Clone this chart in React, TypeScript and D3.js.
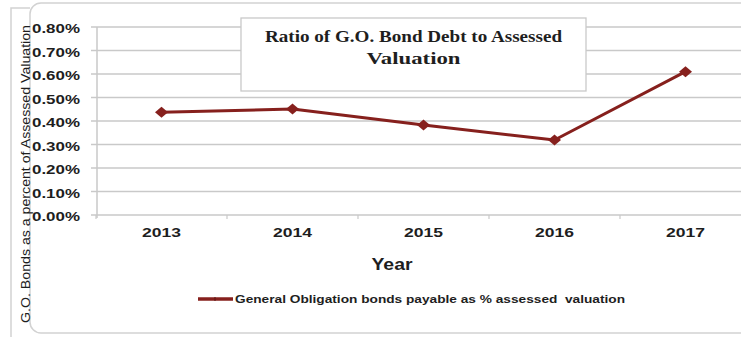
import React from "react";
import * as d3 from "d3";

const years = ["2013", "2014", "2015", "2016", "2017"];
const ratios = [0.00437, 0.00451, 0.00383, 0.00319, 0.0061];
const yTicks = [0, 0.001, 0.002, 0.003, 0.004, 0.005, 0.006, 0.007, 0.008];
const titleLines = ["Ratio of G.O. Bond Debt to Assessed", "Valuation"];
const yAxisTitle = "G.O. Bonds as a percent of Assessed Valuation";
const xAxisTitle = "Year";
const legendLabel = "General Obligation bonds payable as % assessed  valuation";

const W = 741;
const H = 337;
const LINE = "#86201d";
const GRID = "#c9c9c9";
const TXT = "#1e1e1e";

export default function App() {
  const plotLeft = 96;
  const band = 131;
  const x = d3
    .scaleBand<string>()
    .domain(years)
    .range([plotLeft, plotLeft + band * years.length]);
  const y = d3.scaleLinear().domain([0, 0.008]).range([215, 27]);
  const fmt = d3.format(".2%");
  const cx = (d: string) => (x(d) as number) + x.bandwidth() / 2;

  const pts: [number, number][] = years.map((d, i) => [cx(d), y(ratios[i])]);
  const line = d3.line().curve(d3.curveLinear)(pts) as string;

  const diamond = (px: number, py: number, w = 6.5, h = 5.5) =>
    `M${px},${py - h}L${px + w},${py}L${px},${py + h}L${px - w},${py}Z`;

  return (
    <svg
      width={W}
      height={H}
      style={{ position: "absolute", left: 0, top: 0, background: "#fff" }}
    >
      {/* outer frames */}
      <path d={`M11,${H}V8H30`} fill="none" stroke="#d2d2d2" strokeWidth={1.5} />
      <rect x={30} y={3} width={W + 20} height={330} rx={11} fill="#fff" stroke="#d2d2d2" strokeWidth={1.5} />

      {/* gridlines */}
      {yTicks.map((t) => (
        <line key={t} x1={91} x2={W + 10} y1={y(t)} y2={y(t)} stroke={GRID} strokeWidth={1.5} />
      ))}
      {/* y axis */}
      <line x1={plotLeft + 1} x2={plotLeft + 1} y1={y(0.008)} y2={y(0) + 3} stroke={GRID} strokeWidth={1.5} />
      {/* x ticks */}
      {years.map((d) => (
        <line key={d} x1={x(d) as number} x2={x(d) as number} y1={y(0)} y2={y(0) + 4} stroke={GRID} strokeWidth={1.2} />
      ))}

      {/* y tick labels */}
      {yTicks.map((t) => (
        <text
          key={t}
          x={80}
          y={y(t) + 6}
          textAnchor="end"
          fontFamily="Arial, 'Liberation Sans', sans-serif"
          fontWeight="bold"
          fontSize={12.5}
          fill={TXT}
          textLength={48}
          lengthAdjust="spacingAndGlyphs"
        >
          {fmt(t)}
        </text>
      ))}

      {/* x tick labels */}
      {years.map((d) => (
        <text
          key={d}
          x={cx(d)}
          y={237}
          textAnchor="middle"
          fontFamily="Arial, 'Liberation Sans', sans-serif"
          fontWeight="bold"
          fontSize={13.5}
          fill={TXT}
          textLength={39}
          lengthAdjust="spacingAndGlyphs"
        >
          {d}
        </text>
      ))}

      {/* x axis title */}
      <text
        x={392}
        y={270}
        textAnchor="middle"
        fontFamily="Arial, 'Liberation Sans', sans-serif"
        fontWeight="bold"
        fontSize={17}
        fill={TXT}
        textLength={41}
        lengthAdjust="spacingAndGlyphs"
      >
        {xAxisTitle}
      </text>

      {/* y axis title */}
      <text
        transform="translate(29.5,174) rotate(-90)"
        textAnchor="middle"
        fontFamily="Arial, 'Liberation Sans', sans-serif"
        fontSize={12.5}
        fill={TXT}
        textLength={298}
        lengthAdjust="spacingAndGlyphs"
      >
        {yAxisTitle}
      </text>

      {/* series */}
      <path d={line} fill="none" stroke={LINE} strokeWidth={3} strokeLinejoin="round" />
      {pts.map(([px, py], i) => (
        <path key={i} d={diamond(px, py)} fill={LINE} />
      ))}

      {/* title box */}
      <rect x={241} y={18} width={345} height={73} fill="#fff" stroke="#c9c9c9" strokeWidth={1.3} />
      {titleLines.map((t, i) => (
        <text
          key={t}
          x={413.5}
          y={42 + i * 22}
          textAnchor="middle"
          fontFamily="'Liberation Serif', 'DejaVu Serif', serif"
          fontWeight="bold"
          fontSize={17}
          fill={TXT}
          textLength={i === 0 ? 297 : 94}
          lengthAdjust="spacingAndGlyphs"
        >
          {t}
        </text>
      ))}

      {/* legend */}
      <line x1={198} x2={233} y1={299} y2={299} stroke={LINE} strokeWidth={3.5} />
      <line x1={215} x2={215} y1={297} y2={301} stroke="#5a1412" strokeWidth={1} />
      <text
        x={235}
        y={303}
        fontFamily="Arial, 'Liberation Sans', sans-serif"
        fontWeight="bold"
        fontSize={11.5}
        fill={TXT}
        textLength={390}
        lengthAdjust="spacingAndGlyphs"
        style={{ whiteSpace: "pre" }}
      >
        {legendLabel}
      </text>
    </svg>
  );
}
